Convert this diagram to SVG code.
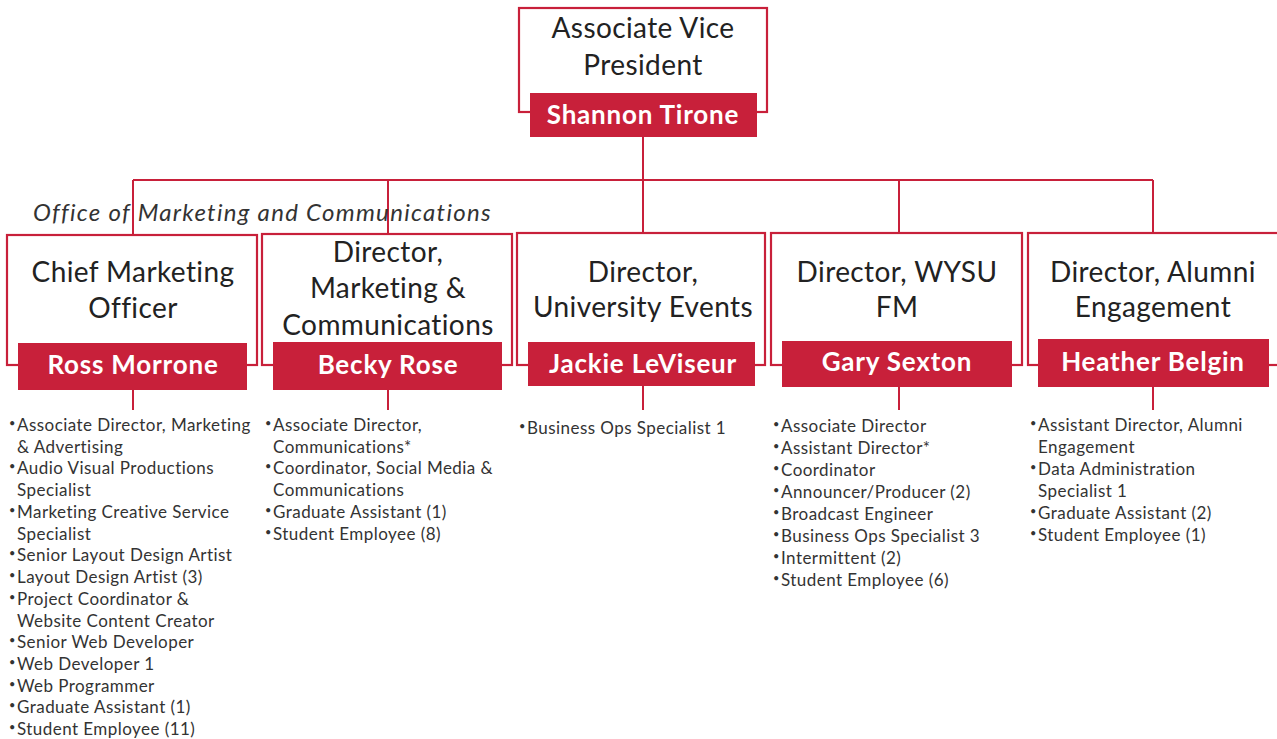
<svg xmlns="http://www.w3.org/2000/svg" width="1277" height="739" viewBox="0 0 1277 739">
<style>
.frame{fill:none;stroke:#c8203a;stroke-width:2.2}
.bar{fill:#c8203a}
.title{font-family:Lato,"Noto Sans",sans-serif;font-size:28px;letter-spacing:0.4px;fill:#222;text-anchor:middle}
.name{font-family:Lato,"Noto Sans",sans-serif;font-size:26px;letter-spacing:0.8px;font-weight:bold;fill:#fff;text-anchor:middle}
.list{font-family:Lato,"Noto Sans",sans-serif;font-size:17px;letter-spacing:0.45px;fill:#333}
.b{font-size:11px}
.office{font-family:Lato,"Noto Sans",sans-serif;font-size:24px;letter-spacing:1.3px;font-style:italic;fill:#333}
.conn{fill:none;stroke:#c8203a;stroke-width:2}
</style>
<rect width="1277" height="739" fill="#fff"/>
<g id="connectors">
<path class="conn" d="M643 137 V233 M133 180 H1153 M133 180 V234 M388 180 V233 M899 180 V233 M1153 180 V233"/>
<path class="conn" d="M133 390 V410 M388 390 V410 M643 386 V410 M899 387 V410 M1153 387 V410"/>
</g>
<text class="office" x="33" y="221">Office of Marketing and Communications</text>
<g id="avp">
<rect class="frame" x="519" y="8" width="248" height="104"/>
<rect class="bar" x="530" y="93" width="227" height="44"/>
<text class="title" x="643" y="38">Associate Vice</text>
<text class="title" x="643" y="75">President</text>
<text class="name" x="643" y="124">Shannon Tirone</text>
</g>
<g id="cmo">
<rect class="frame" x="7" y="235" width="250" height="130"/>
<rect class="bar" x="18" y="343" width="229" height="47"/>
<text class="title" x="133" y="282">Chief Marketing</text>
<text class="title" x="133" y="318">Officer</text>
<text class="name" x="133" y="374">Ross Morrone</text>
</g>
<g id="dmc">
<rect class="frame" x="262" y="234" width="250" height="131"/>
<rect class="bar" x="273" y="342" width="229" height="48"/>
<text class="title" x="388" y="262">Director,</text>
<text class="title" x="388" y="298">Marketing &amp;</text>
<text class="title" x="388" y="335">Communications</text>
<text class="name" x="388" y="374">Becky Rose</text>
</g>
<g id="due">
<rect class="frame" x="517" y="233" width="248" height="132"/>
<rect class="bar" x="528" y="342" width="227" height="44"/>
<text class="title" x="643" y="282">Director,</text>
<text class="title" x="643" y="317">University Events</text>
<text class="name" x="643" y="373">Jackie LeViseur</text>
</g>
<g id="dwysu">
<rect class="frame" x="771" y="233" width="251" height="132"/>
<rect class="bar" x="782" y="341" width="230" height="46"/>
<text class="title" x="897" y="282">Director, WYSU</text>
<text class="title" x="897" y="317">FM</text>
<text class="name" x="897" y="371">Gary Sexton</text>
</g>
<g id="dae">
<rect class="frame" x="1028" y="233" width="260" height="132"/>
<rect class="bar" x="1038" y="339" width="231" height="48"/>
<text class="title" x="1153" y="282">Director, Alumni</text>
<text class="title" x="1153" y="317">Engagement</text>
<text class="name" x="1153" y="371">Heather Belgin</text>
</g>
<g id="list-cmo" class="list">
<text x="9" y="431"><tspan class="b" dy="-4">•</tspan><tspan x="17" dy="4">Associate Director, Marketing</tspan></text>
<text x="17" y="453">&amp; Advertising</text>
<text x="9" y="474"><tspan class="b" dy="-4">•</tspan><tspan x="17" dy="4">Audio Visual Productions</tspan></text>
<text x="17" y="496">Specialist</text>
<text x="9" y="518"><tspan class="b" dy="-4">•</tspan><tspan x="17" dy="4">Marketing Creative Service</tspan></text>
<text x="17" y="540">Specialist</text>
<text x="9" y="561"><tspan class="b" dy="-4">•</tspan><tspan x="17" dy="4">Senior Layout Design Artist</tspan></text>
<text x="9" y="583"><tspan class="b" dy="-4">•</tspan><tspan x="17" dy="4">Layout Design Artist (3)</tspan></text>
<text x="9" y="605"><tspan class="b" dy="-4">•</tspan><tspan x="17" dy="4">Project Coordinator &amp;</tspan></text>
<text x="17" y="627">Website Content Creator</text>
<text x="9" y="648"><tspan class="b" dy="-4">•</tspan><tspan x="17" dy="4">Senior Web Developer</tspan></text>
<text x="9" y="670"><tspan class="b" dy="-4">•</tspan><tspan x="17" dy="4">Web Developer 1</tspan></text>
<text x="9" y="692"><tspan class="b" dy="-4">•</tspan><tspan x="17" dy="4">Web Programmer</tspan></text>
<text x="9" y="713"><tspan class="b" dy="-4">•</tspan><tspan x="17" dy="4">Graduate Assistant (1)</tspan></text>
<text x="9" y="735"><tspan class="b" dy="-4">•</tspan><tspan x="17" dy="4">Student Employee (11)</tspan></text>
</g>
<g id="list-dmc" class="list">
<text x="265" y="431"><tspan class="b" dy="-4">•</tspan><tspan x="273" dy="4">Associate Director,</tspan></text>
<text x="273" y="453">Communications*</text>
<text x="265" y="474"><tspan class="b" dy="-4">•</tspan><tspan x="273" dy="4">Coordinator, Social Media &amp;</tspan></text>
<text x="273" y="496">Communications</text>
<text x="265" y="518"><tspan class="b" dy="-4">•</tspan><tspan x="273" dy="4">Graduate Assistant (1)</tspan></text>
<text x="265" y="540"><tspan class="b" dy="-4">•</tspan><tspan x="273" dy="4">Student Employee (8)</tspan></text>
</g>
<g id="list-due" class="list">
<text x="519" y="434"><tspan class="b" dy="-4">•</tspan><tspan x="527" dy="4">Business Ops Specialist 1</tspan></text>
</g>
<g id="list-dwysu" class="list">
<text x="773" y="432"><tspan class="b" dy="-4">•</tspan><tspan x="781" dy="4">Associate Director</tspan></text>
<text x="773" y="454"><tspan class="b" dy="-4">•</tspan><tspan x="781" dy="4">Assistant Director*</tspan></text>
<text x="773" y="476"><tspan class="b" dy="-4">•</tspan><tspan x="781" dy="4">Coordinator</tspan></text>
<text x="773" y="498"><tspan class="b" dy="-4">•</tspan><tspan x="781" dy="4">Announcer/Producer (2)</tspan></text>
<text x="773" y="520"><tspan class="b" dy="-4">•</tspan><tspan x="781" dy="4">Broadcast Engineer</tspan></text>
<text x="773" y="542"><tspan class="b" dy="-4">•</tspan><tspan x="781" dy="4">Business Ops Specialist 3</tspan></text>
<text x="773" y="564"><tspan class="b" dy="-4">•</tspan><tspan x="781" dy="4">Intermittent (2)</tspan></text>
<text x="773" y="586"><tspan class="b" dy="-4">•</tspan><tspan x="781" dy="4">Student Employee (6)</tspan></text>
</g>
<g id="list-dae" class="list">
<text x="1030" y="431"><tspan class="b" dy="-4">•</tspan><tspan x="1038" dy="4">Assistant Director, Alumni</tspan></text>
<text x="1038" y="453">Engagement</text>
<text x="1030" y="475"><tspan class="b" dy="-4">•</tspan><tspan x="1038" dy="4">Data Administration</tspan></text>
<text x="1038" y="497">Specialist 1</text>
<text x="1030" y="519"><tspan class="b" dy="-4">•</tspan><tspan x="1038" dy="4">Graduate Assistant (2)</tspan></text>
<text x="1030" y="541"><tspan class="b" dy="-4">•</tspan><tspan x="1038" dy="4">Student Employee (1)</tspan></text>
</g>
</svg>
